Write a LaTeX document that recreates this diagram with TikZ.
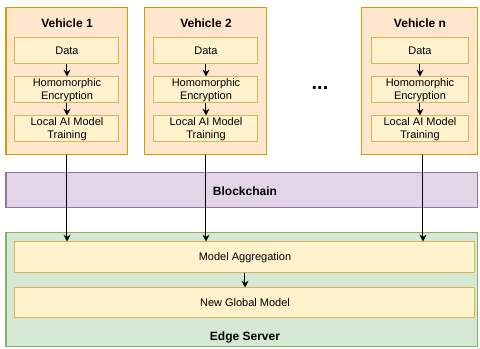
\documentclass[tikz,border=0pt]{standalone}
\usepackage{fontspec}
\setmainfont{Liberation Sans}
\usetikzlibrary{positioning,arrows.meta}

\definecolor{vehfill}{HTML}{FFE6CC}
\definecolor{vehline}{HTML}{D79B00}
\definecolor{stepfill}{HTML}{FFF2CC}
\definecolor{stepline}{HTML}{D6B656}
\definecolor{chainfill}{HTML}{E1D5E7}
\definecolor{chainline}{HTML}{9673A6}
\definecolor{serverfill}{HTML}{D5E8D4}
\definecolor{serverline}{HTML}{82B366}

\begin{document}
\begin{tikzpicture}[x=0.75pt,y=-0.75pt,line width=0.75pt,>={Stealth[length=5pt,width=5pt,inset=1.5pt]}]
        \tikzstyle{vehicle}=[rectangle,draw=vehline,fill=vehfill,minimum width=91.5pt,minimum height=110.25pt]
        \tikzstyle{stepbox}=[rectangle,draw=stepline,fill=stepfill,minimum width=78pt,minimum height=19.5pt,align=center,font=\fontsize{8.25}{9.5}\selectfont,inner sep=1pt]
        \tikzstyle{title}=[font=\fontsize{9}{11}\selectfont\bfseries]
        \tikzstyle{wide}=[rectangle,minimum width=354pt]
          \useasboundingbox (0,0) rectangle (480,349);
          % vehicles
          \node (v1) at (67,81.5) [vehicle] {};
          \node (v2) at (206,81.5) [vehicle] {};
          \node (vn) at (420,81.5) [vehicle,minimum width=87pt] {};
          \node (v1title) at (67,23) [title] {Vehicle 1};
          \node (v2title) at (206,23) [title] {Vehicle 2};
          \node (vntitle) at (420,23) [title] {Vehicle n};
          \node (dots) at (320,88) [font=\fontsize{15}{15}\selectfont\bfseries] {...};
          \foreach \v/\x/\w in {v1/67/78pt,v2/206/78pt,vn/420/72.75pt} {
            \node (\v data) at (\x,51) [stepbox,minimum width=\w] {Data};
            \node (\v enc) at (\x,90) [stepbox,minimum width=\w] {Homomorphic\\Encryption};
            \node (\v train) at (\x,129) [stepbox,minimum width=\w] {Local AI Model\\Training};
            \draw [->] (\v data) -- (\v enc);
            \draw [->] (\v enc) -- (\v train);
          }
          % blockchain and edge server
          \node (chain) at (242,190.5) [wide,draw=chainline,fill=chainfill,minimum height=26.25pt] {};
          \node (server) at (242,290) [wide,draw=serverline,fill=serverfill,minimum height=85.5pt] {};
          \node (agg) at (245,257.5) [stepbox,minimum width=345pt,minimum height=23.25pt] {Model Aggregation};
          \node (global) at (245,303) [stepbox,minimum width=345pt,minimum height=22.5pt] {New Global Model};
          \node (chaintitle) at (245,191) [title] {Blockchain};
          \node (servertitle) at (245,337) [title] {Edge Server};
          \draw [->] (v1) -- (v1 |- agg.north);
          \draw [->] (v2) -- (v2 |- agg.north);
          \draw [->] ([xshift=2.25pt]vn.south) -- ([xshift=2.25pt]vn.south |- agg.north);
          \draw [->] (agg) -- (global);
      \end{tikzpicture}
\end{document}
